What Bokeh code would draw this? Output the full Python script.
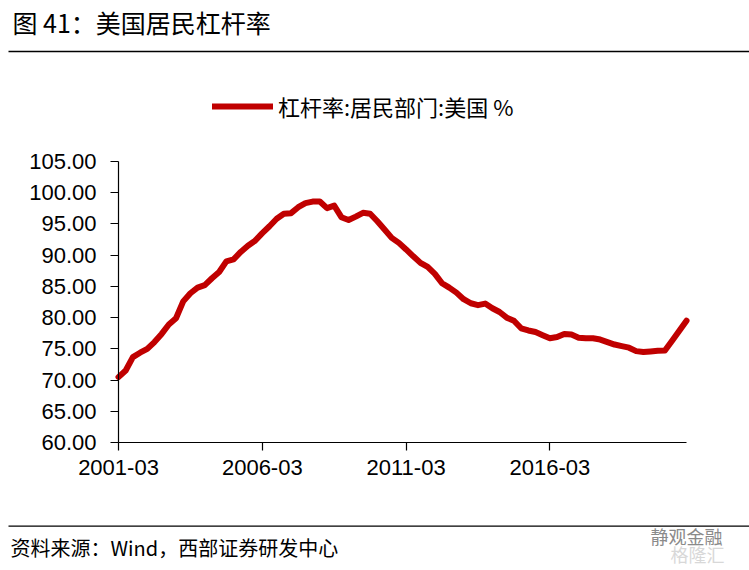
from bokeh.plotting import figure
from bokeh.models import (Label, Arrow, Legend, LegendItem, FixedTicker,
                          ColumnDataSource, Range1d, PrintfTickFormatter)
from bokeh.embed import file_html
from bokeh.resources import INLINE

# ---- data ----
title_text = "图 41：美国居民杠杆率"
series_name = "杠杆率:居民部门:美国 %"
source_text = "资料来源：Wind，西部证券研发中心"
watermark_1 = "静观金融"
watermark_2 = "格隆汇"
tick_positions = [0, 20, 40, 60]
tick_labels = ["2001-03", "2006-03", "2011-03", "2016-03"]
y_ticks = [60, 65, 70, 75, 80, 85, 90, 95, 100, 105]
y_min, y_max = 60, 105

values = [
    70.5, 71.55, 73.7, 74.4, 75.0, 76.1, 77.4, 78.9, 79.9, 82.6,
    83.9, 84.8, 85.2, 86.3, 87.3, 89.0, 89.3, 90.5, 91.5, 92.3,
    93.5, 94.6, 95.8, 96.6, 96.7, 97.65, 98.3, 98.55, 98.55, 97.5,
    97.9, 96.05, 95.6, 96.15, 96.75, 96.6, 95.4, 94.1, 92.75, 91.95,
    90.9, 89.8, 88.75, 88.1,
    87.0, 85.5, 84.8, 84.0, 82.95, 82.3, 82.0, 82.25, 81.5, 80.9,
    80.0, 79.5, 78.3, 77.95, 77.7, 77.2, 76.7, 76.9, 77.4, 77.3,
    76.8, 76.7, 76.7, 76.5, 76.1, 75.7, 75.45, 75.2, 74.65, 74.5,
    74.6, 74.7, 74.75, 76.3, 77.9, 79.5,
]
quarter_index = list(range(len(values)))

RED = "#C00000"
CJK = "Noto Sans CJK SC"
LAT = "Liberation Sans"
W, H = 749, 570

# plot area in canvas pixels (layout only)
PL, PR, PT, PB = 118.0, 686.0, 160.7, 442.3
n_last = len(values) - 1
xs = (PR - PL) / n_last
ys = (PB - PT) / (y_max - y_min)
x_range = Range1d(0 - PL / xs, n_last + (W - PR) / xs)
y_range = Range1d(y_min - (H - PB) / ys, y_max + PT / ys)

src = ColumnDataSource(dict(x=quarter_index, y=values))
p = figure(width=W, height=H, output_backend="svg", toolbar_location=None,
           min_border=0, min_border_left=0, min_border_right=0,
           min_border_top=0, min_border_bottom=0,
           x_range=x_range, y_range=y_range)
p.outline_line_color = None
p.grid.visible = False

r = p.line("x", "y", source=src, line_color=RED, line_width=6,
           line_cap="round", line_join="round")

xa, ya = p.xaxis[0], p.yaxis[0]
for ax in (xa, ya):
    ax.axis_line_color = "black"
    ax.axis_line_width = 1.2
    ax.major_tick_line_color = "black"
    ax.major_tick_line_width = 1.2
    ax.major_tick_out = 8
    ax.major_tick_in = 0
    ax.minor_tick_line_color = None
    ax.major_label_text_font = LAT
    ax.major_label_text_font_size = "22px"
    ax.major_label_text_color = "black"

xa.fixed_location = y_min
xa.bounds = (0, n_last)
xa.ticker = FixedTicker(ticks=tick_positions)
xa.major_label_overrides = {t: l for t, l in zip(tick_positions, tick_labels)}
xa.major_label_standoff = 9

ya.fixed_location = 0
ya.bounds = (y_min, y_max)
ya.ticker = FixedTicker(ticks=y_ticks)
ya.formatter = PrintfTickFormatter(format="%.2f")
ya.major_label_standoff = 14

legend = Legend(items=[LegendItem(label=series_name, renderers=[r])],
                location=(212, 448), orientation="horizontal",
                glyph_width=61, glyph_height=22, label_standoff=5,
                padding=0, margin=0, spacing=0,
                border_line_color=None, background_fill_alpha=0,
                label_text_font=CJK, label_text_font_size="22px",
                label_text_color="black")
p.add_layout(legend, "center")

# title, rules, source, watermark
p.add_layout(Label(x=12, y=21, x_units="canvas", y_units="canvas",
                   text=title_text, text_font=CJK, text_font_size="25px",
                   text_color="black", text_baseline="middle"))
p.add_layout(Arrow(end=None, x_start=8, y_start=51, x_end=W, y_end=51,
                   start_units="canvas", end_units="canvas",
                   line_color="black", line_width=1.3))
p.add_layout(Arrow(end=None, x_start=8, y_start=525.7, x_end=W, y_end=525.7,
                   start_units="canvas", end_units="canvas",
                   line_color="black", line_width=1.3))
p.add_layout(Label(x=10, y=547, x_units="canvas", y_units="canvas",
                   text=source_text, text_font=CJK, text_font_size="20px",
                   text_color="black", text_baseline="middle"))
p.add_layout(Label(x=650, y=535, x_units="canvas", y_units="canvas",
                   text=watermark_1, text_font=CJK, text_font_size="18px",
                   text_color="#8a8a8a", text_baseline="middle"))
p.add_layout(Label(x=670, y=553, x_units="canvas", y_units="canvas",
                   text=watermark_2, text_font=CJK, text_font_size="18px",
                   text_color="#d8d8d8", text_baseline="middle"))

open("out.html", "w").write(file_html(p, INLINE))
